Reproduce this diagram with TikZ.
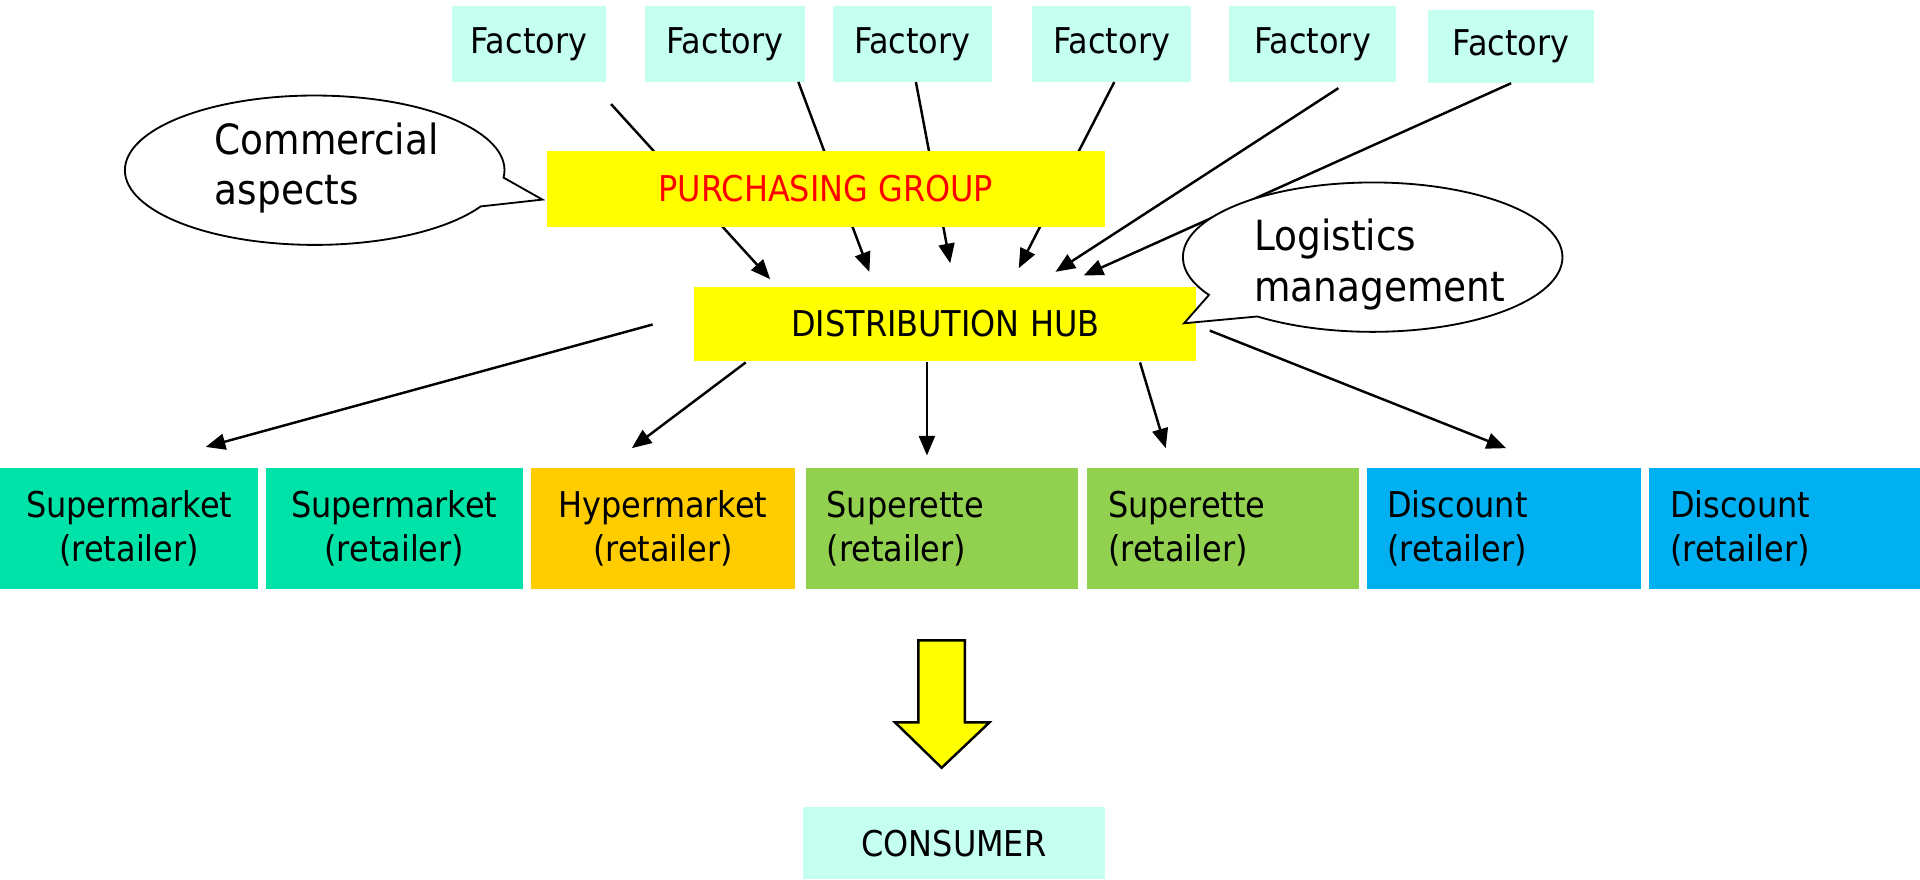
\documentclass[tikz,border=0pt]{standalone}
\usepackage{fontspec}
\setmainfont{DejaVu Sans Condensed}
\usetikzlibrary{arrows.meta,calc}
\definecolor{factcol}{HTML}{C5FFF0}
\definecolor{supcol}{HTML}{00E3A8}
\definecolor{hypcol}{HTML}{FFCC00}
\definecolor{sprcol}{HTML}{92D050}
\definecolor{discol}{HTML}{00B0F0}
\definecolor{ylw}{HTML}{FFFF00}
\tikzset{
  box/.style={rectangle, inner sep=0pt, outer sep=0pt, font=\fontsize{14.5}{18}\selectfont},
  retc/.style={box, minimum height=49.5pt, align=center},
  retl/.style={box, minimum height=49.5pt, align=left, inner xsep=8.5pt},
  conn/.style={line width=1pt, -{Triangle[length=8pt,width=6.5pt]}},
  callout/.style={draw=black, fill=white, line width=0.75pt},
  calltext/.style={inner sep=0pt, align=left, font=\fontsize{17}{20.5}\selectfont}
}
\begin{document}
\begin{tikzpicture}[x=0.5pt,y=-0.5pt]
\useasboundingbox (0,0) rectangle (1568,718);
% factories
\node[box, fill=factcol, minimum width=63pt, minimum height=31pt] (f1) at (432,36) {Factory};
\node[box, fill=factcol, minimum width=65pt, minimum height=31pt] (f2) at (592,36) {Factory};
\node[box, fill=factcol, minimum width=65pt, minimum height=31pt] (f3) at (745,36) {Factory};
\node[box, fill=factcol, minimum width=65pt, minimum height=31pt] (f4) at (908,36) {Factory};
\node[box, fill=factcol, minimum width=68pt, minimum height=31pt] (f5) at (1072,36) {Factory};
\node[box, fill=factcol, minimum width=68pt, minimum height=30pt] (f6) at (1234,38) {Factory};
% connector end points
\coordinate (s1) at (499,85);  \coordinate (e1) at (629,228);
\coordinate (s2) at (652,67);  \coordinate (e2) at (710,222);
\coordinate (s3) at (748,67);  \coordinate (e3) at (776,215);
\coordinate (s4) at (910,67);  \coordinate (e4) at (832,219);
\coordinate (s5) at (1093,72); \coordinate (e5) at (862,222);
\coordinate (s6) at (1234,68); \coordinate (e6) at (885,225);
\foreach \i in {1,...,6} {\draw[conn] (s\i) -- (e\i);}
% purchasing group and hub
\node[box, fill=ylw, minimum width=227.5pt, minimum height=31pt, text=red] (pg) at (674.5,154) {PURCHASING GROUP};
\node[box, fill=ylw, minimum width=205pt, minimum height=30.5pt] (dh) at (772,264.5) {DISTRIBUTION HUB};
% lower connectors
\coordinate (d1) at (533,265); \coordinate (t1) at (168,365);
\coordinate (d2) at (609,296); \coordinate (t2) at (516,366);
\coordinate (d3) at (757,296); \coordinate (t3) at (757,372);
\coordinate (d4) at (931,296); \coordinate (t4) at (952,366);
\coordinate (d5) at (988,270); \coordinate (t5) at (1230,366);
\foreach \i in {1,...,5} {\draw[conn] (d\i) -- (t\i);}
% retailers
\node[retc, fill=supcol, text width=105.5pt] (r1) at (105.5,431.5) {Supermarket\\(retailer)};
\node[retc, fill=supcol, text width=105pt] (r2) at (322,431.5) {Supermarket\\(retailer)};
\node[retc, fill=hypcol, text width=107.5pt] (r3) at (541.5,431.5) {Hypermarket\\(retailer)};
\node[retl, fill=sprcol, text width=94pt] (r4) at (769,431.5) {Superette\\(retailer)};
\node[retl, fill=sprcol, text width=94pt] (r5) at (999,431.5) {Superette\\(retailer)};
\node[retl, fill=discol, text width=95pt] (r6) at (1228,431.5) {Discount\\(retailer)};
\node[retl, fill=discol, text width=93.5pt] (r7) at (1457.5,431.5) {Discount\\(retailer)};
% big arrow
\draw[fill=ylw, line width=1pt, line join=miter] (750,523) -- (788,523) -- (788,590) -- (808,590) -- (769,627) -- (731,590) -- (750,590) -- cycle;
\node[box, fill=factcol, minimum width=123pt, minimum height=29.5pt] (cons) at (779,688.5) {CONSUMER};
% callouts
\coordinate (cc) at (257,139);
\coordinate (ctip) at (443,163);
\draw[callout] ($(cc)+(-5.7:77.5pt and 30.5pt)$) arc[start angle=-5.7, end angle=331, x radius=77.5pt, y radius=30.5pt] -- (ctip) -- cycle;
\node[calltext, anchor=west] (ct) at (175,137) {Commercial\\aspects};
\coordinate (lc) at (1121,210);
\coordinate (ltip) at (967,264);
\draw[callout] ($(lc)+(232.6:77.5pt and 30.5pt)$) arc[start angle=232.6, end angle=570.4, x radius=77.5pt, y radius=30.5pt] -- (ltip) -- cycle;
\node[calltext, anchor=west] (lt) at (1024,216) {Logistics\\management};
\end{tikzpicture}
\end{document}
